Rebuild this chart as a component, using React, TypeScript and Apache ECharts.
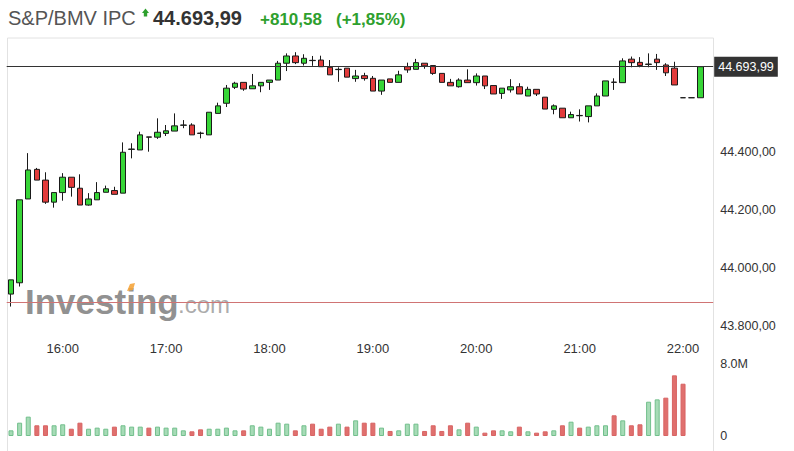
import React, { useEffect, useRef } from 'react';
import * as echarts from 'echarts';

const times = [
  '15:30', '15:35', '15:40', '15:45', '15:50', '15:55',
  '16:00', '16:05', '16:10', '16:15', '16:20', '16:25', '16:30', '16:35', '16:40', '16:45', '16:50', '16:55',
  '17:00', '17:05', '17:10', '17:15', '17:20', '17:25', '17:30', '17:35', '17:40', '17:45', '17:50', '17:55',
  '18:00', '18:05', '18:10', '18:15', '18:20', '18:25', '18:30', '18:35', '18:40', '18:45', '18:50', '18:55',
  '19:00', '19:05', '19:10', '19:15', '19:20', '19:25', '19:30', '19:35', '19:40', '19:45', '19:50', '19:55',
  '20:00', '20:05', '20:10', '20:15', '20:20', '20:25', '20:30', '20:35', '20:40', '20:45', '20:50', '20:55',
  '21:00', '21:05', '21:10', '21:15', '21:20', '21:25', '21:30', '21:35', '21:40', '21:45', '21:50', '21:55',
  '22:00', '22:05', '22:10', '22:15',
];

const opens = [
  43910, 43949, 44238, 44340, 44303, 44227, 44260, 44313, 44275, 44217,
  44235, 44261, 44267, 44258, 44409, 44407, 44452, 44451, 44464, 44472,
  44492, 44493, 44465, 44459, 44533, 44568, 44623, 44640, 44618, 44628,
  44640, 44648, 44706, 44731, 44706, 44716, 44717, 44692, 44684, 44689,
  44653, 44663, 44654, 44610, 44652, 44640, 44694, 44685, 44706, 44698,
  44671, 44640, 44625, 44648, 44639, 44662, 44629, 44602, 44614, 44625,
  44593, 44616, 44589, 44547, 44551, 44518, 44526, 44522, 44559, 44593,
  44641, 44639, 44720, 44709, 44702, 44720, 44700, 44689, 44587, 44587,
  44587,
];
const closes = [
  43959, 44235, 44338, 44303, 44227, 44260, 44313, 44278, 44217, 44238,
  44260, 44273, 44254, 44399, 44410, 44459, 44451, 44468, 44473, 44490,
  44493, 44459, 44464, 44537, 44559, 44620, 44637, 44617, 44628, 44640,
  44648, 44706, 44731, 44708, 44723, 44715, 44694, 44666, 44685, 44658,
  44662, 44653, 44610, 44648, 44640, 44666, 44683, 44708, 44697, 44671,
  44640, 44628, 44648, 44639, 44662, 44628, 44600, 44620, 44625, 44600,
  44616, 44600, 44548, 44559, 44518, 44529, 44525, 44559, 44593, 44645,
  44640, 44714, 44708, 44698, 44703, 44708, 44673, 44631, 44587, 44587,
  44693.99,
];
const highs = [
  43959, 44235, 44396, 44345, 44330, 44260, 44327, 44313, 44323, 44258,
  44296, 44284, 44280, 44433, 44430, 44470, 44452, 44516, 44493, 44533,
  44510, 44499, 44470, 44537, 44570, 44631, 44642, 44640, 44669, 44640,
  44648, 44714, 44740, 44744, 44737, 44731, 44732, 44717, 44692, 44689,
  44683, 44673, 44662, 44648, 44652, 44680, 44708, 44721, 44706, 44698,
  44671, 44652, 44654, 44685, 44671, 44662, 44629, 44620, 44651, 44637,
  44625, 44616, 44589, 44564, 44551, 44539, 44547, 44559, 44602, 44645,
  44654, 44723, 44729, 44727, 44740, 44738, 44706, 44711, 44587, 44587,
  44693.99,
];
const lows = [
  43867, 43936, 44238, 44303, 44221, 44208, 44232, 44246, 44217, 44215,
  44235, 44261, 44254, 44258, 44378, 44407, 44401, 44445, 44455, 44472,
  44482, 44459, 44447, 44459, 44533, 44555, 44617, 44611, 44618, 44606,
  44614, 44648, 44679, 44703, 44698, 44697, 44694, 44666, 44642, 44658,
  44642, 44646, 44610, 44597, 44640, 44640, 44673, 44685, 44687, 44666,
  44640, 44628, 44622, 44639, 44629, 44617, 44600, 44583, 44605, 44600,
  44593, 44593, 44548, 44530, 44518, 44518, 44505, 44502, 44559, 44593,
  44614, 44639, 44692, 44692, 44692, 44683, 44662, 44631, 44587, 44587,
  44587,
];

// volume in millions
const volumes = [
  0.63, 1.48, 2.15, 1.19, 1.19, 1.19, 1.3, 0.81, 1.48, 0.81,
  0.93, 0.81, 1.04, 1.19, 1.04, 1.04, 0.93, 1.04, 0.93, 0.93,
  0.63, 0.52, 0.74, 0.81, 0.81, 0.93, 0.63, 0.63, 1.19, 1.04,
  0.81, 1.48, 1.37, 0.63, 1.19, 1.37, 0.81, 1.04, 1.37, 1.04,
  1.74, 1.48, 1.48, 0.93, 0.56, 0.63, 1.37, 1.37, 0.56, 1.19,
  0.56, 1.19, 0.74, 1.48, 1.04, 0.37, 0.63, 0.63, 0.52, 1.04,
  0.52, 0.37, 0.52, 0.63, 1.19, 1.59, 0.93, 1.04, 1.19, 1.19,
  2.3, 1.74, 1.19, 1.3, 3.81, 4.07, 4.26, 6.74, 5.81, null,
  null,
];
const volumeUp = [
  1, 1, 1, 0, 0, 1, 1, 0, 0, 1,
  1, 1, 0, 1, 1, 1, 0, 1, 1, 1,
  1, 0, 0, 1, 1, 1, 1, 0, 1, 1,
  1, 1, 1, 0, 1, 0, 0, 0, 1, 0,
  1, 0, 0, 1, 0, 1, 1, 1, 0, 0,
  0, 0, 1, 0, 1, 0, 0, 1, 1, 0,
  1, 0, 0, 1, 0, 1, 0, 1, 1, 1,
  0, 1, 0, 0, 1, 1, 0, 0, 0, 1,
  1,
];

const priceTicks = [43800, 44000, 44200, 44400];
const volumeTicks = [0, 8];
const lastPrice = 44693.99;
const prevClose = 43883.41;
const titleName = 'S&P/BMV IPC';
const changeAbs = '+810,58';
const changePct = '(+1,85%)';

const FONT = 'Arial, "Liberation Sans", sans-serif';

function fmtPrice(v: number): string {
  const [i, d] = v.toFixed(2).split('.');
  return i.replace(/\B(?=(\d{3})+(?!\d))/g, '.') + ',' + d;
}

export default function App() {
  const ref = useRef<HTMLDivElement>(null);
  useEffect(() => {
    const chart = echarts.init(ref.current!, null, { renderer: 'svg' });
    const candleData = opens.map((o, i) => [o, closes[i], lows[i], highs[i]]);
    const volData = volumes.map((v, i) =>
      v == null
        ? null
        : {
            value: v,
            itemStyle: volumeUp[i]
              ? { color: '#a6dbb6', borderColor: '#72bf8c', borderWidth: 1 }
              : { color: '#e0706e', borderColor: '#d86464', borderWidth: 1 },
          }
    );
    const gridLeft = 6.7;
    const gridRight = 80.8;
    const option: any = {
      animation: false,
      backgroundColor: '#ffffff',
      textStyle: { fontFamily: FONT },
      grid: [
        { left: gridLeft, right: gridRight, top: 38, bottom: 114 },
        { left: gridLeft, right: gridRight, top: 364, bottom: 15 },
      ],
      xAxis: [
        {
          type: 'category',
          gridIndex: 0,
          data: times,
          boundaryGap: true,
          axisLine: { show: false },
          axisTick: { show: false },
          splitLine: { show: false },
          axisLabel: {
            interval: (_i: number, v: string) => v.endsWith(':00'),
            margin: 5,
            fontSize: 13,
            color: '#333',
            fontFamily: FONT,
          },
        },
        {
          type: 'category',
          gridIndex: 1,
          data: times,
          boundaryGap: true,
          show: false,
        },
      ],
      yAxis: [
        {
          type: 'value',
          gridIndex: 0,
          position: 'right',
          min: 43762,
          max: 44793,
          scale: true,
          axisLine: { show: false },
          axisTick: { show: false },
          splitLine: { show: false },
          axisLabel: {
            customValues: priceTicks,
            formatter: (v: number) => fmtPrice(v),
            margin: 7,
            fontSize: 12.5,
            color: '#333',
            fontFamily: FONT,
          },
        },
        {
          type: 'value',
          gridIndex: 1,
          position: 'right',
          min: 0,
          max: 8,
          interval: 8,
          axisLine: { show: false },
          axisTick: { show: false },
          splitLine: { show: false },
          axisLabel: {
            customValues: volumeTicks,
            formatter: (v: number) => (v === 0 ? '0' : v.toFixed(1) + 'M'),
            margin: 7,
            fontSize: 12.5,
            color: '#333',
            fontFamily: FONT,
          },
        },
      ],
      graphic: {
        elements: [
          { type: 'line', z: 0, shape: { x1: 7.5, y1: 38, x2: 713.5, y2: 38 }, style: { stroke: '#e2e2e2', lineWidth: 1 } },
          { type: 'line', z: 0, shape: { x1: 7.5, y1: 38, x2: 7.5, y2: 451 }, style: { stroke: '#e2e2e2', lineWidth: 1 } },
          { type: 'line', z: 0, shape: { x1: 713.5, y1: 38, x2: 713.5, y2: 451 }, style: { stroke: '#e2e2e2', lineWidth: 1 } },
          {
            type: 'text', z: 0, x: 25, y: 301,
            style: { text: 'Investing', fill: 'rgba(125,125,125,0.85)', font: `bold 35px ${FONT}`, align: 'left', verticalAlign: 'middle' },
          },
          {
            type: 'text', z: 0, x: 178, y: 304.5,
            style: { text: '.com', fill: 'rgba(150,150,150,0.8)', font: `24px ${FONT}`, align: 'left', verticalAlign: 'middle' },
          },
          {
            type: 'polygon', z: 0,
            shape: { points: [[127, 291], [130, 284], [135, 283], [133, 290]] },
            style: { fill: 'rgba(245,165,60,0.9)' },
          },
          {
            type: 'text', x: 8, y: 18,
            style: { text: titleName, fill: '#555', font: `20px ${FONT}`, align: 'left', verticalAlign: 'middle' },
          },
          {
            type: 'polygon',
            shape: { points: [[142, 13], [145.5, 8.5], [149, 13], [147.2, 13], [147.2, 16.5], [143.8, 16.5], [143.8, 13]] },
            style: { fill: '#2ea02e' },
          },
          {
            type: 'text', x: 153, y: 18,
            style: { text: fmtPrice(lastPrice), fill: '#333', font: `bold 20px ${FONT}`, align: 'left', verticalAlign: 'middle' },
          },
          {
            type: 'text', x: 260, y: 19,
            style: { text: changeAbs, fill: '#2ea02e', font: `bold 17px ${FONT}`, align: 'left', verticalAlign: 'middle' },
          },
          {
            type: 'text', x: 336, y: 19,
            style: { text: changePct, fill: '#2ea02e', font: `bold 17px ${FONT}`, align: 'left', verticalAlign: 'middle' },
          },
        ],
      },
      series: [
        {
          type: 'candlestick',
          xAxisIndex: 0,
          yAxisIndex: 0,
          data: candleData,
          barWidth: 6,
          itemStyle: {
            color: '#37d537',
            color0: '#e23b3b',
            borderColor: '#1a1a1a',
            borderColor0: '#1a1a1a',
            borderColorDoji: '#1a1a1a',
            borderWidth: 1,
          },
          markLine: {
            silent: true,
            symbol: ['none', 'none'],
            animation: false,
            data: [
              {
                yAxis: prevClose,
                lineStyle: { color: '#d07474', width: 1, type: 'solid' },
                label: { show: false },
              },
              {
                yAxis: lastPrice,
                lineStyle: { color: '#333', width: 1, type: 'solid' },
                label: {
                  show: true,
                  position: 'end',
                  distance: 1,
                  formatter: () => fmtPrice(lastPrice),
                  backgroundColor: '#333',
                  color: '#fff',
                  padding: [4, 4, 3, 4],
                  fontSize: 12.5,
                  fontFamily: FONT,
                },
              },
            ],
          },
        },
        {
          type: 'bar',
          xAxisIndex: 1,
          yAxisIndex: 1,
          data: volData,
          barWidth: 5,
        },
      ],
    };
    chart.setOption(option);
    return () => chart.dispose();
  }, []);
  return (
    <div
      ref={ref}
      style={{ position: 'absolute', left: 0, top: 0, width: 794, height: 451, background: '#fff' }}
    />
  );
}
